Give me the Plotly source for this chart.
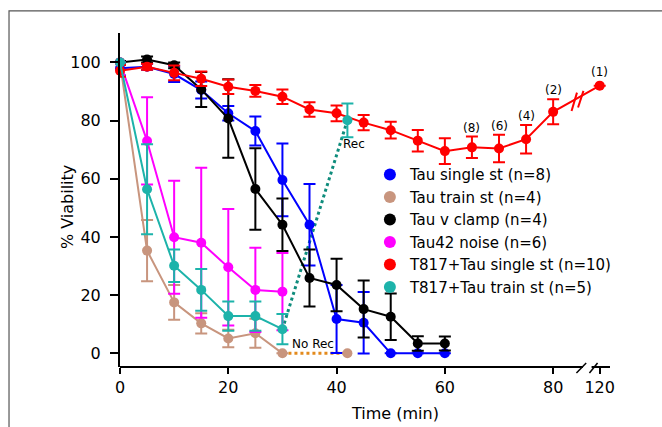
import plotly.graph_objects as go

# ---------------- data ----------------
t_main = [0, 5, 10, 15, 20, 25, 30, 35, 40, 45, 50, 55, 60]
t_short = [0, 5, 10, 15, 20, 25, 30]
t_red = [0, 5, 10, 15, 20, 25, 30, 35, 40, 45, 50, 55, 60, 65, 70, 75, 80, 120]

tau_single = [98, 98.5, 96, 90.5, 82.5, 76.4, 59.6, 44.2, 11.8, 10.5, 0, 0, 0]
tau_single_err = [2.5, 1, 2.7, 2.9, 2.5, 5, 12.5, 14, 11.7, 10.6, 0, 0, 0]

tau_vclamp = [100, 101, 99, 90.7, 80.7, 56.5, 44.2, 25.9, 23.5, 15.2, 12.6, 3.4, 3.4]
tau_vclamp_err = [0.5, 1, 1, 6, 13.5, 14, 9, 9.8, 9, 9.8, 8, 2.5, 2.4]

tau_train = [100, 35.3, 17.5, 10.3, 5.1, 6.9, 0]
tau_train_err = [0, 10.5, 6, 3.5, 3, 5, 0]

tau42 = [100, 73, 39.9, 38, 29.6, 21.8, 21.2]
tau42_err = [0, 15, 19.4, 25.8, 20, 14.5, 13.3]

t817_train = [100, 56.4, 30.1, 21.8, 12.8, 12.8, 8.3]
t817_train_err = [0, 15.5, 5.6, 7.2, 5, 5, 5.2]

t817_single = [97.1, 98.5, 96.4, 94.4, 91.6, 90.2, 88.2, 83.8, 82.5, 79.3, 76.7,
               73.1, 69.5, 70.8, 70.4, 73.6, 83, 92]
t817_single_err = [2, 1, 2.5, 2.5, 2.5, 2, 2.5, 2.5, 2.7, 2.6, 2.9, 3.7, 4.4, 3.7,
                   4.7, 4.9, 4.3, 0]

rec_t = 42
rec_value = 80.1
rec_err = 5.8
norec_value = 0

n_t = [65, 70, 75, 80, 120]
n_labels = ["(8)", "(6)", "(4)", "(2)", "(1)"]

x_tickvals = [0, 20, 40, 60, 80, 120]
y_tickvals = [0, 20, 40, 60, 80, 100]

legend_names = ["Tau single st (n=8)", "Tau train st (n=4)", "Tau v clamp (n=4)",
                "Tau42 noise (n=6)", "T817+Tau single st (n=10)", "T817+Tau train st (n=5)"]

# ---------------- styling ----------------
BLUE = "#0000FF"
BROWN = "#C8957E"
BLACK = "#000000"
MAGENTA = "#FF00FF"
RED = "#FF0000"
TEAL = "#1DB3AA"
TEAL_DOT = "#0E8C7C"
ORANGE_DOT = "#E38A1C"
legend_colors = [BLUE, BROWN, BLACK, MAGENTA, RED, TEAL]

FONT = "DejaVu Sans, Verdana, sans-serif"
BREAK_POS = 88.6   # display position of the 120-min point after the axis break
X_MAX = 90.5
Y_MIN, Y_MAX = -4.7, 110.1


def dx(t):
    return t if t <= 80 else BREAK_POS


def series(x, y, err, color, show_err=True):
    return go.Scatter(
        x=[dx(v) for v in x], y=y, mode="lines+markers",
        line=dict(color=color, width=2),
        marker=dict(color=color, size=10),
        error_y=dict(type="data", array=err, visible=show_err, color=color,
                     thickness=2, width=6),
        cliponaxis=False, showlegend=False, hoverinfo="x+y",
    )


fig = go.Figure()

# dotted recovery / no-recovery connectors
fig.add_trace(go.Scatter(x=[t_short[-1], rec_t], y=[t817_train[-1], rec_value], mode="lines",
                         line=dict(color=TEAL_DOT, width=3, dash="dot"),
                         showlegend=False, cliponaxis=False))
fig.add_trace(go.Scatter(x=[t_short[-1], rec_t], y=[tau_train[-1], norec_value], mode="lines",
                         line=dict(color=ORANGE_DOT, width=3, dash="dot"),
                         showlegend=False, cliponaxis=False))

fig.add_trace(series(t_main, tau_single, tau_single_err, BLUE))
fig.add_trace(series(t_short, tau_train, tau_train_err, BROWN))
fig.add_trace(series(t_main, tau_vclamp, tau_vclamp_err, BLACK))
fig.add_trace(series(t_short, tau42, tau42_err, MAGENTA))
fig.add_trace(series(t_red, t817_single, t817_single_err, RED))
fig.add_trace(series(t_short, t817_train, t817_train_err, TEAL))

# recovery points
fig.add_trace(go.Scatter(x=[rec_t], y=[norec_value], mode="markers",
                         marker=dict(color=BROWN, size=10), showlegend=False, cliponaxis=False))
fig.add_trace(go.Scatter(x=[rec_t], y=[rec_value], mode="markers",
                         marker=dict(color=TEAL, size=10),
                         error_y=dict(type="data", array=[rec_err], color=TEAL, thickness=2, width=6),
                         showlegend=False, cliponaxis=False))

# legend-only traces
for name, col in zip(legend_names, legend_colors):
    fig.add_trace(go.Scatter(x=[None], y=[None], mode="markers", name=name,
                             marker=dict(color=col, size=10), showlegend=True))

# n annotations above red points
red_lookup = {t: (v, e) for t, v, e in zip(t_red, t817_single, t817_single_err)}
annotations = []
for t, lab in zip(n_t, n_labels):
    v, e = red_lookup[t]
    annotations.append(dict(x=dx(t), y=v + e, text=lab, showarrow=False, xref="x", yref="y",
                            yanchor="bottom", yshift=0 if e > 0 else 5,
                            font=dict(family=FONT, size=12, color="black")))

annotations.append(dict(x=rec_t, y=rec_value, text="Rec", showarrow=False, xanchor="left",
                        yanchor="middle", xshift=-6, yshift=-24,
                        font=dict(family=FONT, size=12, color="black")))
annotations.append(dict(x=t_short[-1], y=norec_value, text="No Rec", showarrow=False,
                        xanchor="left", yanchor="middle", xshift=8, yshift=9,
                        font=dict(family=FONT, size=12, color="black")))

# axis titles
annotations.append(dict(x=0.561, y=-0.138, xref="paper", yref="paper", text="Time (min)",
                        showarrow=False, xanchor="center", yanchor="middle",
                        font=dict(family=FONT, size=16, color="black")))
annotations.append(dict(x=-0.108, y=0.479, xref="paper", yref="paper", text="% Viability",
                        showarrow=False, textangle=-90, xanchor="center", yanchor="middle",
                        font=dict(family=FONT, size=16, color="black")))

# ---------------- shapes: axis with break, break marks, frame ----------------
gap_start, gap_end = 85.5, 87.1
shapes = [
    dict(type="line", xref="x", yref="paper", x0=0, x1=gap_start, y0=0, y1=0,
         line=dict(color="black", width=2)),
    dict(type="line", xref="x", yref="paper", x0=gap_end, x1=X_MAX, y0=0, y1=0,
         line=dict(color="black", width=2)),
    dict(type="line", xref="x", yref="paper", x0=84.3, x1=86.1, y0=-0.018, y1=0.012,
         line=dict(color="black", width=1.5)),
    dict(type="line", xref="x", yref="paper", x0=86.7, x1=88.2, y0=-0.018, y1=0.012,
         line=dict(color="black", width=1.5)),
    # break marks on red series
    dict(type="line", xref="x", yref="y", x0=83.4, x1=84.4, y0=83.3, y1=89.6,
         line=dict(color=RED, width=2)),
    dict(type="line", xref="x", yref="y", x0=84.6, x1=85.6, y0=84.5, y1=90.2,
         line=dict(color=RED, width=2)),
    # outer gray frame
    dict(type="rect", xref="paper", yref="paper", x0=-0.2265, x1=3, y0=-3, y1=1.066,
         line=dict(color="#555555", width=1.2), fillcolor="rgba(0,0,0,0)"),
]

fig.update_layout(
    width=662, height=427,
    margin=dict(l=120, r=52, t=33, b=60),
    paper_bgcolor="white", plot_bgcolor="white",
    font=dict(family=FONT, size=15, color="black"),
    annotations=annotations,
    shapes=shapes,
    legend=dict(x=0.51, y=0.625, xanchor="left", yanchor="top",
                bgcolor="rgba(0,0,0,0)", font=dict(family=FONT, size=15),
                tracegroupgap=0, itemsizing="constant"),
    xaxis=dict(range=[0, X_MAX], showgrid=False, zeroline=False, showline=False,
               tickmode="array", tickvals=[dx(v) for v in x_tickvals],
               ticktext=[str(v) for v in x_tickvals],
               ticks="outside", ticklen=6, tickwidth=2, tickcolor="black",
               tickfont=dict(family=FONT, size=16)),
    yaxis=dict(range=[Y_MIN, Y_MAX], showgrid=False, zeroline=False, showline=True,
               linecolor="black", linewidth=2,
               tickmode="array", tickvals=y_tickvals,
               ticks="outside", ticklen=8, tickwidth=2, tickcolor="black",
               ticklabelstandoff=6,
               tickfont=dict(family=FONT, size=16)),
)

fig.write_html("out.html", config={"displayModeBar": False},
               post_script="document.body.style.margin='0';document.body.style.overflow='hidden';")
